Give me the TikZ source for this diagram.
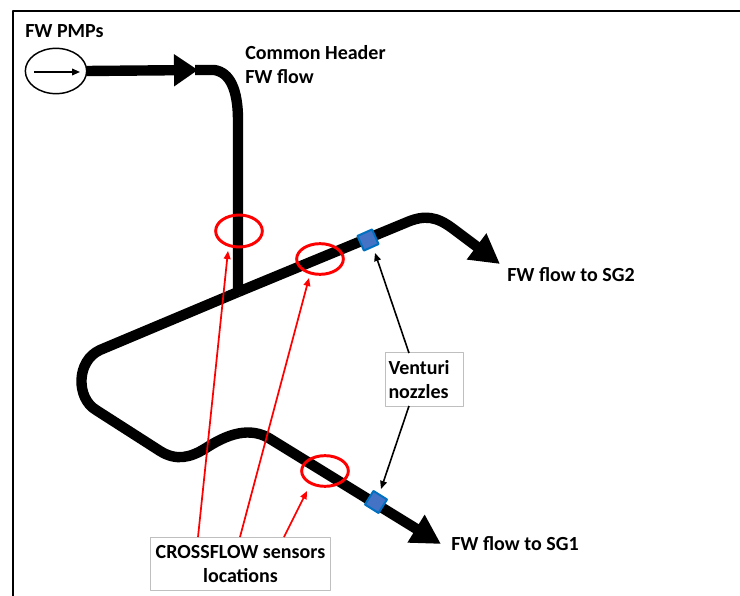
\documentclass[tikz,border=0pt]{standalone}
\usepackage{fontspec}
\setmainfont{Carlito}
\usetikzlibrary{arrows.meta,shapes.geometric}
\definecolor{nozzleblue}{HTML}{4472C4}
\definecolor{nozzleedge}{HTML}{0070C0}
\definecolor{calloutedge}{HTML}{BFBFBF}
\definecolor{sensorred}{HTML}{FF0000}

\begin{document}
\begin{tikzpicture}[
  x=0.75pt,
  y=-0.75pt,
  line join=round,
  pipe/.style={draw=black,line width=7.8pt},
  flowtip/.style={-{Triangle[length=22pt,width=23pt]}},
  headertip/.style={-{Triangle[length=18pt,width=23pt]}},
  sensor/.style={draw=sensorred,line width=2.2pt,ellipse,inner sep=0pt},
  nozzle/.style={fill=nozzleblue,draw=nozzleedge,line width=1.5pt,minimum size=12pt,inner sep=0pt},
  callout/.style={draw=calloutedge,line width=0.75pt,fill=white,align=center,font=\bfseries\fontsize{15}{18.5}\selectfont,inner sep=0pt},
  caption/.style={font=\bfseries\fontsize{15}{18.5}\selectfont,align=left,anchor=west,inner sep=0pt},
  redarrow/.style={draw=sensorred,line width=1.3pt,-{Triangle[length=6pt,width=5pt]}},
  blackarrow/.style={draw=black,line width=1.2pt,-{Triangle[length=6pt,width=5pt]}}
]
  \useasboundingbox (0,0) rectangle (740,596);
  % Frame, only left and top edges show.
  \draw[line width=1.5pt] (13,596) -- (13,11) -- (740,11);

  % Pump.
  \node[draw,ellipse,line width=1.1pt,minimum width=46pt,minimum height=34pt,inner sep=0pt,outer sep=0pt] (pump) at (56,71) {};
  \coordinate (pumpL) at (34,72);
  \coordinate (pumpR) at (80,72);
  \draw[blackarrow] (pumpL) -- (pumpR);

  % Common header down to the branch.
  \coordinate (headerEnd) at (198,70);
  \draw[pipe,headertip] (pump.east) -- (headerEnd);
  \draw[pipe] (195,70) -- (214,70) .. controls (230,72) and (238,90) .. (238,120) -- (238,295);

  % Main loop: upper branch, bend, lower branch.
  \coordinate (tipSGtwo) at (500,264);
  \coordinate (tipSGone) at (441,544);
  \draw[pipe,flowtip] (238,292) -- (100,350) .. controls (76,361) and (76,398) .. (96,410)
    -- (160,451) .. controls (176,461) and (190,458) .. (206,448)
    .. controls (226,435) and (250,425) .. (272,440) -- (tipSGone);
  \draw[pipe,flowtip] (238,292) -- (405,223) .. controls (425,214) and (437,217) .. (452,228) -- (tipSGtwo);

  % Venturi nozzles.
  \node[nozzle,rotate=24] (nozzleA) at (368,240) {};
  \node[nozzle,rotate=-32] (nozzleB) at (376,502) {};

  % Sensor rings.
  \node[sensor,minimum width=35pt,minimum height=24pt] (ringA) at (239,231) {};
  \node[sensor,minimum width=35pt,minimum height=23pt] (ringB) at (320,259) {};
  \node[sensor,minimum width=35pt,minimum height=23pt] (ringC) at (325,471) {};

  % Callouts.
  \node[callout,minimum width=135pt,minimum height=40pt] (crossflow) at (240.5,564)
    {CROSSFLOW sensors\\locations};
  \node[callout,minimum width=59pt,minimum height=40pt,align=left,text width=54pt] (venturi) at (424.5,379.5)
    {Venturi\\nozzles};

  \coordinate (arrowA) at (228,251);
  \coordinate (arrowB) at (309,278);
  \coordinate (arrowC) at (307,491);
  \draw[redarrow] (198,537) -- (arrowA);
  \draw[redarrow] (240,537) -- (arrowB);
  \draw[redarrow] (284,537) -- (arrowC);
  \coordinate (arrowD) at (375,253);
  \coordinate (arrowE) at (381,489);
  \draw[blackarrow] (409,353) -- (arrowD);
  \draw[blackarrow] (409,406) -- (arrowE);

  % Labels.
  \node[caption] (pumpLabel) at (25,31) {FW PMPs};
  \node[caption] (headerLabel) at (245,53) {Common Header};
  \node[caption] (headerLabelB) at (245,77) {FW flow};
  \node[caption] (sgtwoLabel) at (507,275) {FW flow to SG2};
  \node[caption] (sgoneLabel) at (451,544) {FW flow to SG1};
\end{tikzpicture}
\end{document}
